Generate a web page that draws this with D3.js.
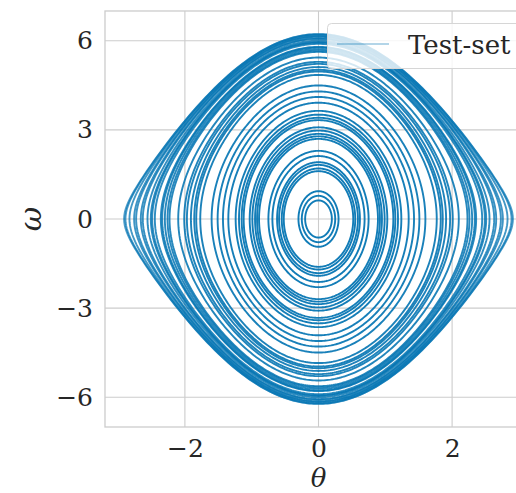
<!DOCTYPE html>
<html>
<head>
<meta charset="utf-8">
<script src="https://cdn.jsdelivr.net/npm/d3@7"></script>
<style>
  html, body { margin: 0; padding: 0; background: #fff; }
  svg { display: block; }
</style>
</head>
<body>
<svg id="chart" width="516" height="493"></svg>
<script>
// orbit amplitudes (max theta on each closed trajectory)
const thetaAmps = [
  0.20, 0.25, 0.30, 0.52, 0.55, 0.59, 0.62, 0.69, 0.75, 0.89,
  0.92, 0.95, 0.99, 1.03, 1.12, 1.15, 1.19, 1.24, 1.35, 1.43,
  1.51, 1.60, 1.77, 1.83, 1.86, 1.91, 1.97, 2.01, 2.10, 2.23,
  2.26, 2.30, 2.34, 2.36, 2.45, 2.49, 2.51, 2.56, 2.63, 2.66,
  2.73, 2.76, 2.83, 2.89, 2.91
];
const xTicks = [-2, 0, 2];
const yTicks = [-6, -3, 0, 3, 6];
const legendLabel = "Test-set";
const xLabel = "θ";
const yLabel = "ω";

const g = 9.81;       // g/L of the pendulum
const simTime = 8;    // length of each simulated trajectory (s)

const color = "#0173b2";
const gridColor = "#cccccc";
const font = "'DejaVu Serif', serif";

const svg = d3.select("#chart");
const margin = { top: 11, left: 105 };
const width = 427, height = 416;

const x = d3.scaleLinear().domain([-3.196, 3.196]).range([0, width]);
const y = d3.scaleLinear().domain([-7, 7]).range([height, 0]);

const chart = svg.append("g")
    .attr("transform", `translate(${margin.left},${margin.top})`);

// grid
chart.append("g")
    .selectAll("line")
    .data(xTicks)
    .enter()
    .append("line")
    .attr("x1", d => x(d)).attr("x2", d => x(d))
    .attr("y1", 0).attr("y2", height)
    .attr("stroke", gridColor).attr("stroke-width", 1.1);
chart.append("g")
    .selectAll("line")
    .data(yTicks)
    .enter()
    .append("line")
    .attr("x1", 0).attr("x2", width)
    .attr("y1", d => y(d)).attr("y2", d => y(d))
    .attr("stroke", gridColor).attr("stroke-width", 1.1);

// frame
chart.append("rect")
    .attr("x", 0).attr("y", 0)
    .attr("width", width).attr("height", height)
    .attr("fill", "none")
    .attr("stroke", gridColor).attr("stroke-width", 1.3);

// trajectories
const agm = (a, b) => {
    for (let i = 0; i < 20; i++) {
        const a1 = (a + b) / 2;
        b = Math.sqrt(a * b);
        a = a1;
    }
    return a;
};

const orbit = th0 => {
    const k = Math.sin(th0 / 2);
    return d3.range(0, 361).map(i => {
        const phi = i * Math.PI / 180;
        return [2 * Math.asin(k * Math.sin(phi)), 2 * Math.sqrt(g) * k * Math.cos(phi)];
    });
};

const line = d3.line()
    .x(d => x(d[0]))
    .y(d => y(d[1]));

chart.append("g")
    .selectAll("path")
    .data(thetaAmps)
    .enter()
    .append("path")
    .attr("d", d => line(orbit(d)))
    .attr("fill", "none")
    .attr("stroke", color)
    .attr("stroke-width", 1.9)
    .attr("stroke-opacity", d => {
        const period = 2 * Math.PI / Math.sqrt(g) / agm(1, Math.cos(d / 2));
        return 1 - Math.pow(0.5, simTime / period);
    });

// axes
const fmt = d => d < 0 ? "\u2212" + Math.abs(d) : d;
const xAxis = chart.append("g")
    .attr("transform", `translate(0,${height})`)
    .call(d3.axisBottom(x).tickValues(xTicks).tickSize(0).tickFormat(fmt));
xAxis.selectAll("text").attr("y", 30).attr("dy", 0);
const yAxis = chart.append("g")
    .call(d3.axisLeft(y).tickValues(yTicks).tickSize(0).tickPadding(12).tickFormat(fmt));
[xAxis, yAxis].forEach(a => {
    a.select(".domain").remove();
    a.selectAll("text")
        .attr("font-family", font)
        .attr("font-size", 25)
        .attr("fill", "#262626");
});

svg.append("text")
    .attr("x", margin.left + x(0))
    .attr("y", 486.5)
    .attr("text-anchor", "middle")
    .attr("font-family", font)
    .attr("font-style", "italic")
    .attr("font-size", 26)
    .attr("fill", "#262626")
    .text(xLabel);

svg.append("text")
    .attr("transform", `translate(41,${margin.top + y(0)}) rotate(-90)`)
    .attr("text-anchor", "middle")
    .attr("font-family", font)
    .attr("font-style", "italic")
    .attr("font-size", 30)
    .attr("fill", "#262626")
    .text(yLabel);

// legend
const legend = svg.append("g");
legend.append("rect")
    .attr("x", 327.5).attr("y", 23.5)
    .attr("width", 220).attr("height", 45)
    .attr("rx", 4)
    .attr("fill", "#fff").attr("fill-opacity", 0.8)
    .attr("stroke", "#d6d6d6").attr("stroke-width", 1);
legend.append("line")
    .attr("x1", 337).attr("x2", 389)
    .attr("y1", 44).attr("y2", 44)
    .attr("stroke", color).attr("stroke-opacity", 0.4)
    .attr("stroke-width", 1.6);
legend.append("text")
    .attr("x", 408)
    .attr("y", 54)
    .attr("font-family", font)
    .attr("font-size", 26)
    .attr("fill", "#262626")
    .text(legendLabel);
</script>
</body>
</html>
